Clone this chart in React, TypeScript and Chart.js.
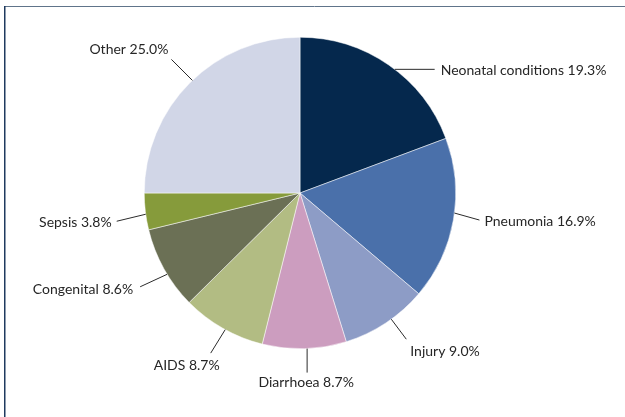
import React, { useEffect, useRef } from "react";
import { Chart, registerables } from "chart.js";

Chart.register(...registerables);

const categories = [
  "Neonatal conditions",
  "Pneumonia",
  "Injury",
  "Diarrhoea",
  "AIDS",
  "Congenital",
  "Sepsis",
  "Other",
];
const values = [19.3, 16.9, 9.0, 8.7, 8.7, 8.6, 3.8, 25.0];
const colors = [
  "#05284d",
  "#4a70aa",
  "#8d9cc6",
  "#cc9dbf",
  "#b2bc83",
  "#6b7055",
  "#869b3b",
  "#d1d6e7",
];

// leader-line layout for each label: angle tweak (deg), line vector, text offset, alignment
const leaderAngleTweak = [2.7, -2.5, -2.4, -1, -1, -2.3, -1, 1.3];
const leaderVec: [number, number][] = [
  [40, 0],
  [25, 7],
  [15, 20],
  [0, 24],
  [-14.5, 23.5],
  [-27, 12.5],
  [-29, 7],
  [-21, -21],
];
const textOffset: [number, number][] = [
  [6, 1],
  [5, 1.5],
  [4, 12],
  [-1, 10],
  [-24, 12],
  [-7, 3],
  [-5, 1.5],
  [-3, -10],
];
const textAlign: CanvasTextAlign[] = [
  "left",
  "left",
  "left",
  "center",
  "center",
  "right",
  "right",
  "right",
];

const labelPlugin = {
  id: "leaderLabels",
  afterDraw(chart: any) {
    const ctx = chart.ctx as CanvasRenderingContext2D;
    const meta = chart.getDatasetMeta(0);
    ctx.save();
    // frame
    ctx.strokeStyle = "#60748a";
    ctx.lineWidth = 1;
    ctx.beginPath();
    ctx.moveTo(4, 6.5);
    ctx.lineTo(625, 6.5);
    ctx.stroke();
    ctx.strokeStyle = "#1f3a5f";
    ctx.lineWidth = 1.5;
    ctx.beginPath();
    ctx.moveTo(4.75, 6);
    ctx.lineTo(4.75, 417);
    ctx.stroke();

    ctx.font = "14px Lato";
    ctx.textBaseline = "middle";
    meta.data.forEach((arc: any, i: number) => {
      const p = arc.getProps(["x", "y", "startAngle", "endAngle", "outerRadius"], true);
      const a = (p.startAngle + p.endAngle) / 2 + (leaderAngleTweak[i] * Math.PI) / 180;
      const ax = p.x + p.outerRadius * Math.cos(a);
      const ay = p.y + p.outerRadius * Math.sin(a);
      const ex = ax + leaderVec[i][0];
      const ey = ay + leaderVec[i][1];
      ctx.strokeStyle = "#2b2b2b";
      ctx.lineWidth = 1;
      ctx.beginPath();
      ctx.moveTo(ax, ay);
      ctx.lineTo(ex, ey);
      ctx.stroke();
      ctx.fillStyle = "#262626";
      ctx.textAlign = textAlign[i];
      ctx.fillText(
        `${categories[i]} ${values[i].toFixed(1)}%`,
        ex + textOffset[i][0],
        ey + textOffset[i][1]
      );
    });
    ctx.restore();
  },
};

export default function App() {
  const ref = useRef<HTMLCanvasElement>(null);
  useEffect(() => {
    if (!ref.current) return;
    const chart = new Chart(ref.current, {
      type: "pie",
      data: {
        labels: categories,
        datasets: [
          {
            data: values,
            backgroundColor: colors,
            borderColor: "#ffffff",
            borderWidth: 0.5,
          },
        ],
      },
      options: {
        responsive: false,
        animation: false,
        devicePixelRatio: 1,
        layout: { padding: { left: 144, right: 169, top: 37, bottom: 68 } },
        plugins: {
          legend: { display: false },
          tooltip: { enabled: false },
        },
      },
      plugins: [labelPlugin],
    });
    return () => chart.destroy();
  }, []);
  return (
    <div
      style={{
        position: "fixed",
        left: 0,
        top: 0,
        width: 625,
        height: 417,
        background: "#fff",
      }}
    >
      <canvas ref={ref} width={625} height={417} style={{ display: "block" }} />
    </div>
  );
}
